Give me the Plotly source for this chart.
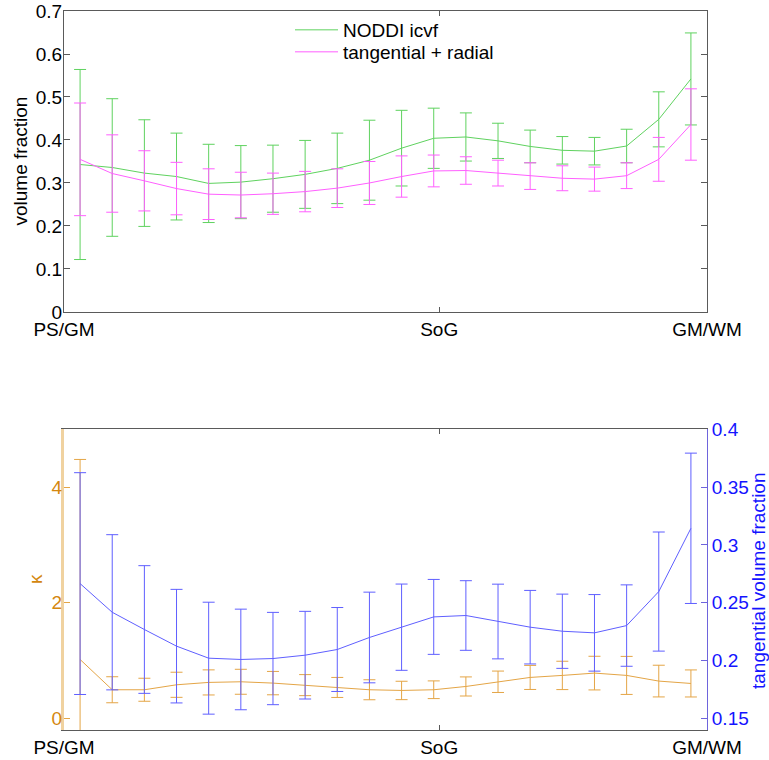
import plotly.graph_objects as go

# ---------------- data ----------------
positions = [k + 0.5 for k in range(20)]          # 20 sampling depths across cortex
x_tick_vals = [0, 11.67, 20]
x_tick_text = ["PS/GM", "SoG", "GM/WM"]

noddi_icvf_mean = [0.343, 0.336, 0.323, 0.315, 0.299, 0.302, 0.310, 0.320, 0.334, 0.353,
                   0.381, 0.404, 0.407, 0.398, 0.385, 0.376, 0.374, 0.386, 0.448, 0.542]
noddi_icvf_std = [0.221, 0.160, 0.124, 0.101, 0.091, 0.085, 0.078, 0.079, 0.082, 0.093,
                  0.088, 0.070, 0.056, 0.041, 0.038, 0.032, 0.032, 0.039, 0.064, 0.107]

tan_rad_mean = [0.355, 0.322, 0.305, 0.287, 0.274, 0.272, 0.275, 0.280, 0.288, 0.300,
                0.315, 0.328, 0.329, 0.323, 0.316, 0.311, 0.309, 0.317, 0.355, 0.436]
tan_rad_std = [0.131, 0.090, 0.070, 0.061, 0.059, 0.053, 0.048, 0.047, 0.045, 0.050,
               0.048, 0.037, 0.032, 0.030, 0.031, 0.029, 0.028, 0.030, 0.051, 0.083]

kappa_mean = [1.020, 0.496, 0.496, 0.582, 0.623, 0.634, 0.611, 0.576, 0.536, 0.496,
              0.484, 0.496, 0.553, 0.634, 0.709, 0.744, 0.784, 0.744, 0.646, 0.605]
kappa_std = [3.459, 0.225, 0.199, 0.217, 0.217, 0.216, 0.202, 0.182, 0.173, 0.173,
             0.159, 0.153, 0.165, 0.185, 0.208, 0.245, 0.291, 0.329, 0.274, 0.234]

tangential_mean = [0.2666, 0.2418, 0.2269, 0.2125, 0.2021, 0.2010, 0.2018, 0.2047, 0.2096, 0.2200,
                   0.2289, 0.2378, 0.2390, 0.2338, 0.2289, 0.2254, 0.2240, 0.2303, 0.2597, 0.3144]
tangential_std = [0.0959, 0.0671, 0.0552, 0.0491, 0.0484, 0.0435, 0.0399, 0.0379, 0.0363, 0.0392,
                  0.0373, 0.0324, 0.0301, 0.0323, 0.0318, 0.0321, 0.0331, 0.0352, 0.0515, 0.0650]

# ---------------- style ----------------
FONT = "Liberation Sans, Arial, Helvetica, sans-serif"
FS = 19
GREEN = "rgb(95,210,95)"
MAGENTA = "rgb(255,95,255)"
BLUE = "rgb(95,95,255)"
ORANGE = "rgb(228,165,70)"
ORANGE_TXT = "rgb(212,135,15)"
BLUE_TXT = "rgb(20,20,255)"
AXIS_GREY = "rgb(90,90,90)"


def err(arr, color):
    return dict(type="data", array=arr, visible=True, color=color, thickness=1, width=6)


fig = go.Figure()

fig.add_trace(go.Scatter(x=positions, y=noddi_icvf_mean, mode="lines", name="NODDI icvf",
                         line=dict(color=GREEN, width=1), error_y=err(noddi_icvf_std, GREEN),
                         xaxis="x", yaxis="y", legend="legend"))
fig.add_trace(go.Scatter(x=positions, y=tan_rad_mean, mode="lines", name="tangential + radial",
                         line=dict(color=MAGENTA, width=1), error_y=err(tan_rad_std, MAGENTA),
                         xaxis="x", yaxis="y", legend="legend2"))
fig.add_trace(go.Scatter(x=positions, y=kappa_mean, mode="lines", name="kappa", showlegend=False,
                         line=dict(color=ORANGE, width=1), error_y=err(kappa_std, ORANGE),
                         xaxis="x2", yaxis="y2"))
fig.add_trace(go.Scatter(x=positions, y=tangential_mean, mode="lines", name="tangential",
                         showlegend=False,
                         line=dict(color=BLUE, width=1), error_y=err(tangential_std, BLUE),
                         xaxis="x2", yaxis="y3"))

xcommon = dict(range=[0, 20], tickmode="array", tickvals=x_tick_vals, ticktext=x_tick_text,
               ticks="inside", ticklen=5, tickcolor=AXIS_GREY, showline=True, linecolor=AXIS_GREY,
               linewidth=1, mirror="ticks", showgrid=False, zeroline=False, automargin=False,
               tickfont=dict(size=FS, color="black"))

legend_common = dict(xanchor="left", yanchor="middle", bgcolor="rgba(0,0,0,0)",
                     font=dict(size=FS, family=FONT, color="black"), itemwidth=43)

fig.update_layout(
    width=769, height=760,
    margin=dict(l=64, r=62, t=11, b=30, autoexpand=False),
    paper_bgcolor="white", plot_bgcolor="white",
    font=dict(family=FONT, size=FS, color="black"),
    showlegend=True,
    legend=dict(x=0.3515, y=0.9736, **legend_common),
    legend2=dict(x=0.3515, y=0.943, **legend_common),
    xaxis=dict(domain=[0, 1], anchor="y", **xcommon),
    yaxis=dict(domain=[0.5814, 1], anchor="x", range=[0, 0.7], dtick=0.1, tick0=0,
               ticks="inside", ticklen=6, tickcolor=AXIS_GREY, showline=True,
               linecolor=AXIS_GREY, linewidth=1, mirror="ticks", showgrid=False, zeroline=False,
               automargin=False, ticklabelstandoff=-3, tickfont=dict(size=FS)),
    xaxis2=dict(domain=[0, 1], anchor="y2", **xcommon),
    yaxis2=dict(domain=[0, 0.4182], anchor="x2", range=[-0.2, 5], tickmode="array",
                tickvals=[0, 2, 4], ticks="inside", ticklen=6, tickcolor=ORANGE,
                showline=True, linecolor="rgb(240,210,160)", linewidth=3, mirror=False,
                showgrid=False, zeroline=False, automargin=False, ticklabelstandoff=-5,
                tickfont=dict(size=FS, color=ORANGE_TXT)),
    yaxis3=dict(domain=[0, 0.4182], anchor="x2", overlaying="y2", side="right",
                range=[0.14, 0.4], tickmode="array",
                tickvals=[0.15, 0.2, 0.25, 0.3, 0.35, 0.4],
                ticktext=["0.15", "0.2", "0.25", "0.3", "0.35", "0.4"],
                ticks="inside", ticklen=6, tickcolor="rgb(110,100,220)",
                showline=True, linecolor="rgb(110,100,220)", linewidth=1,
                showgrid=False, zeroline=False, automargin=False,
                tickfont=dict(size=FS, color=BLUE_TXT)),
    annotations=[
        dict(text="volume fraction", xref="paper", yref="paper", x=-0.0684, y=0.7907,
             textangle=-90, showarrow=False, xanchor="center", yanchor="middle",
             font=dict(size=FS, color="black")),
        dict(text="κ", xref="paper", yref="paper", x=-0.0451, y=0.21,
             textangle=-90, showarrow=False, xanchor="center", yanchor="middle",
             font=dict(size=FS, color=ORANGE_TXT)),
        dict(text="tangential volume fraction", xref="paper", yref="paper", x=1.0793, y=0.2086,
             textangle=-90, showarrow=False, xanchor="center", yanchor="middle",
             font=dict(size=FS, color=BLUE_TXT)),
    ],
)

fig.write_html("out.html", config={"displayModeBar": False},
               post_script="document.body.style.margin='0';")
